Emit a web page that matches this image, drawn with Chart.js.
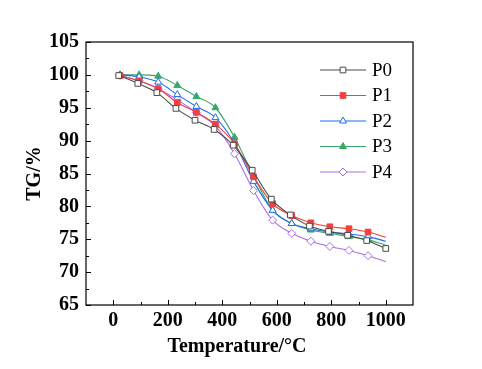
<!DOCTYPE html>
<html>
<head>
<meta charset="utf-8">
<script src="https://cdn.jsdelivr.net/npm/chart.js@4"></script>
<style>
  html, body { margin: 0; padding: 0; background: #fff; }
  #wrap { width: 482px; height: 369px; }
</style>
</head>
<body>
<div id="wrap"><canvas id="tgChart" width="482" height="369"></canvas></div>
<script>
// temperatures where markers sit (P0 markers are a little to the left of the others)
const tempP0 = [20, 90, 160, 230, 300, 370, 440, 510, 580, 650, 720, 790, 860, 930, 1000];
const tempP = [25, 95, 165, 235, 305, 375, 445, 515, 585, 655, 725, 795, 865, 935, 1000];

// TG values (%)
const tgP0 = [99.9, 98.7, 97.3, 94.9, 93.1, 91.7, 89.3, 85.5, 81.1, 78.7, 77.0, 76.2, 75.6, 74.8, 73.6];
const tgP1 = [99.9, 99.1, 97.9, 95.8, 94.3, 92.5, 89.5, 84.5, 80.4, 78.6, 77.5, 76.9, 76.6, 76.1, 75.3];
const tgP2 = [100.0, 99.7, 98.9, 97.0, 95.2, 93.5, 89.6, 83.8, 79.4, 77.4, 76.6, 76.1, 75.8, 75.4, 74.7];
const tgP3 = [100.0, 100.0, 99.8, 98.4, 96.7, 95.0, 90.5, 84.6, 79.4, 77.4, 76.4, 75.9, 75.4, 74.9, 74.1];
const tgP4 = [99.9, 99.1, 97.9, 96.2, 94.3, 92.2, 88.0, 82.4, 77.9, 75.9, 74.7, 73.9, 73.3, 72.5, 71.6];

const xTicks = [0, 200, 400, 600, 800, 1000];
const yTicks = [65, 70, 75, 80, 85, 90, 95, 100, 105];

const SERIF = '"Liberation Serif", "Times New Roman", serif';

function pts(xs, ys) {
    return xs.map((x, i) => ({ x: x, y: ys[i] }));
}

function makeSet(label, xs, ys, color, style, filled, lastMarker) {
    return {
        label: label,
        data: pts(xs, ys),
        borderColor: color,
        backgroundColor: filled ? color : '#ffffff',
        pointBorderColor: color,
        pointBackgroundColor: filled ? color : '#ffffff',
        pointStyle: style,
        pointRadius: ys.map((v, i) => (i === ys.length - 1 && !lastMarker) ? 0 : 4),
        pointBorderWidth: 1,
        borderWidth: 1.1,
        cubicInterpolationMode: 'monotone',
        fill: false
    };
}

// frame, inward ticks, titles and legend
const framePlugin = {
    id: 'frame',
    afterDraw(chart) {
        const { ctx, chartArea: a, scales } = chart;
        const xs = scales.x, ys = scales.y;
        ctx.save();
        ctx.strokeStyle = '#000';
        ctx.lineWidth = 1.2;
        ctx.strokeRect(a.left, a.top, a.right - a.left, a.bottom - a.top);

        ctx.lineWidth = 1;
        ctx.beginPath();
        for (let v = 0; v <= 1000; v += 100) {
            const px = Math.round(xs.getPixelForValue(v)) + 0.5;
            const len = v % 200 === 0 ? 5 : 3;
            ctx.moveTo(px, a.bottom);
            ctx.lineTo(px, a.bottom - len);
        }
        for (let v = 65; v <= 105; v += 2.5) {
            const py = Math.round(ys.getPixelForValue(v)) + 0.5;
            const len = v % 5 === 0 ? 5 : 3;
            ctx.moveTo(a.left, py);
            ctx.lineTo(a.left + len, py);
        }
        ctx.stroke();

        // axis titles
        ctx.fillStyle = '#000';
        ctx.font = 'bold 20px ' + SERIF;
        ctx.textAlign = 'center';
        ctx.textBaseline = 'middle';
        ctx.fillText('Temperature/\u00B0C', 237, 347);
        ctx.save();
        ctx.translate(35, (a.top + a.bottom) / 2);
        ctx.rotate(-Math.PI / 2);
        ctx.fillText('TG/%', 0, 0);
        ctx.restore();

        // legend
        ctx.font = '19px ' + SERIF;
        ctx.textAlign = 'left';
        chart.data.datasets.forEach((ds, i) => {
            const y = 70 + i * 25.5;
            ctx.strokeStyle = ds.borderColor;
            ctx.lineWidth = 1.1;
            ctx.beginPath();
            ctx.moveTo(320, y);
            ctx.lineTo(366, y);
            ctx.stroke();
            ctx.lineWidth = 1;
            ctx.fillStyle = ds.pointBackgroundColor;
            Chart.helpers.drawPoint(ctx, {
                pointStyle: ds.pointStyle, radius: 4, rotation: 0, borderWidth: 1
            }, 343, y);
            ctx.fillStyle = '#000';
            ctx.fillText(ds.label, 372, y + 1);
        });
        ctx.restore();
    }
};

const chart = new Chart(document.getElementById('tgChart').getContext('2d'), {
    type: 'line',
    data: {
        datasets: [
            makeSet('P0', tempP0, tgP0, '#4a4a4a', 'rect', false, true),
            makeSet('P1', tempP, tgP1, '#f04040', 'rect', true, false),
            makeSet('P2', tempP, tgP2, '#1f6fe6', 'triangle', false, false),
            makeSet('P3', tempP, tgP3, '#38a86a', 'triangle', true, false),
            makeSet('P4', tempP, tgP4, '#a86ee8', 'rectRot', false, false)
        ]
    },
    options: {
        responsive: false,
        animation: false,
        layout: { padding: { top: 42, right: 69, left: 0, bottom: 0 } },
        plugins: {
            legend: { display: false },
            title: { display: false },
            tooltip: { enabled: false }
        },
        scales: {
            x: {
                type: 'linear',
                min: -100,
                max: 1100,
                afterBuildTicks: s => { s.ticks = xTicks.map(v => ({ value: v })); },
                afterFit: s => { s.height = 64; },
                grid: { display: false, drawTicks: false },
                border: { display: false },
                ticks: {
                    padding: 4,
                    maxRotation: 0,
                    color: '#000',
                    callback: v => String(v),
                    font: { family: SERIF, size: 20, weight: 'bold' }
                }
            },
            y: {
                type: 'linear',
                min: 65,
                max: 105,
                afterBuildTicks: s => { s.ticks = yTicks.map(v => ({ value: v })); },
                afterFit: s => { s.width = 86; },
                grid: { display: false, drawTicks: false },
                border: { display: false },
                ticks: {
                    padding: 7,
                    color: '#000',
                    callback: v => String(v),
                    font: { family: SERIF, size: 20, weight: 'bold' }
                }
            }
        }
    },
    plugins: [framePlugin]
});
</script>
</body>
</html>
